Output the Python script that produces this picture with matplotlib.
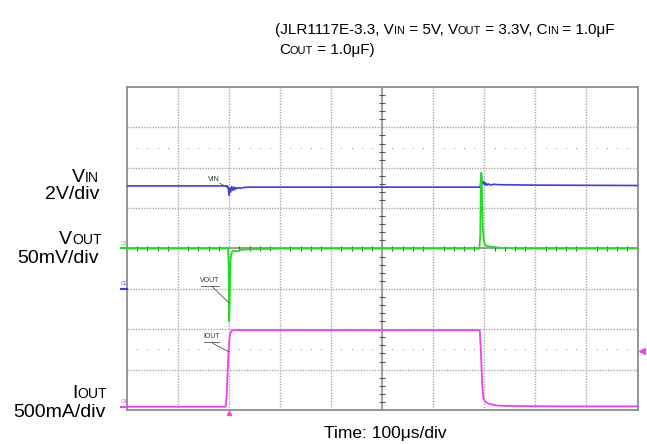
import matplotlib
matplotlib.use("Agg")
import matplotlib.pyplot as plt
import numpy as np

W, H = 647, 444
plt.rcParams['font.family'] = ['Liberation Sans', 'DejaVu Sans']

# ---- data (time in us, 100 us/div; amplitude in screen divisions) ----
vin_t = [0, 150, 197, 199, 200, 201, 203, 205, 207, 209, 211, 213, 215, 218, 222, 228, 240, 300,
         500, 692, 694, 695, 697, 699, 701, 703, 705, 708, 712, 718, 730, 800, 1000]
vin_v = [5.55, 5.55, 5.55, 5.45, 5.32, 5.50, 5.40, 5.53, 5.44, 5.52, 5.46, 5.51, 5.48, 5.51, 5.49,
         5.51, 5.52, 5.52, 5.52, 5.52, 5.87, 5.65, 5.60, 5.66, 5.57, 5.62, 5.57, 5.60, 5.57, 5.59,
         5.58, 5.57, 5.56]

vout_t = [0, 100, 198, 199, 200, 201, 202, 203, 205, 208, 215, 225, 240, 300, 500, 690, 692, 693,
          694, 695, 696, 697, 699, 701, 705, 715, 730, 760, 1000]
vout_v = [4.0, 4.0, 4.0, 3.6, 2.2, 2.6, 3.3, 3.75, 3.9, 3.95, 3.93, 3.97, 3.98, 4.0, 4.0, 4.0, 4.3,
          5.5, 5.87, 5.6, 5.0, 4.5, 4.2, 4.1, 4.06, 4.04, 4.02, 4.0, 4.0]

iout_t = [0, 100, 193, 195, 197, 199, 201, 203, 206, 210, 400, 691, 693, 696, 698, 702, 710, 725,
          745, 850, 1000]
iout_v = [0.08, 0.08, 0.08, 0.3, 0.9, 1.5, 1.8, 1.92, 1.97, 1.98, 1.98, 1.98, 1.5, 0.6, 0.3, 0.2,
          0.15, 0.11, 0.10, 0.09, 0.09]

ch_refs = [4.0, 3.0, 0.08]          # C2, C1, C4 ground markers
ch_names = ["C2", "C1", "C4"]
trig_level = 1.47
trig_time = 200

C_BLUE = '#3c3cf0'
C_GREEN = '#22dd22'
C_MAG = '#f040f0'

fig = plt.figure(figsize=(W / 100, H / 100), dpi=100)
ax = fig.add_axes([127 / W, 1 - 410 / H, (637.5 - 127) / W, (410 - 87) / H])
ax.set_xlim(0, 1000)
ax.set_ylim(0, 8)
ax.set_xticks([])
ax.set_yticks([])
for s in ax.spines.values():
    s.set_color('#8c8c8c')
    s.set_linewidth(1.3)

# grid
for i in range(1, 10):
    if i != 5:
        ax.axvline(i * 100, color='#a8a8a8', lw=1.0, ls=(0, (1, 1)), zorder=1)
for j in range(1, 8):
    if j != 4:
        ax.axhline(j, color='#a8a8a8', lw=1.0, ls=(0, (1, 1)), zorder=1)
ax.axvline(500, color='#8c8c8c', lw=1.2, zorder=1)
ax.axhline(4, color='#8c8c8c', lw=1.2, zorder=1)
# center ticks
ytk = [k * 0.2 for k in range(1, 40) if k % 5 != 0]
ax.hlines(ytk, 500 - 6, 500 + 6, color='#555555', lw=0.8, zorder=1)
xtk = [k * 20 for k in range(1, 50) if k % 5 != 0]
ax.vlines(xtk, 4 - 0.05, 4 + 0.05, color='#555555', lw=0.8, zorder=1)
# sparse dotted rows
xs = [k * 20 for k in range(1, 50) if k % 5 != 0]
for yy in (1.5, 6.5):
    ax.scatter(xs, [yy] * len(xs), s=0.6, color='#888888', zorder=1, linewidths=0)

# traces
ax.plot(vin_t, vin_v, color=C_BLUE, lw=1.2, zorder=3)
ax.plot(vout_t, vout_v, color=C_GREEN, lw=1.3, zorder=4)
ax.plot(iout_t, iout_v, color=C_MAG, lw=1.3, zorder=3)

# channel markers
for ref, name, c in zip(ch_refs, ch_names, [C_GREEN, C_BLUE, C_MAG]):
    ax.plot([-12, 0], [ref, ref], color=c, lw=1.5, clip_on=False, zorder=5)
    ax.text(-12, ref + 0.06, name, color=c, fontsize=3.5, ha='left', va='bottom')
ax.plot([1008], [trig_level], marker='<', color=C_MAG, ms=4, clip_on=False)
ax.plot([trig_time], [-0.07], marker='^', color=C_MAG, ms=3, clip_on=False)

# trace labels with leader lines
ax.text(170, 5.62, "VIN", fontsize=5, color='#333333', ha='center', va='bottom')
ax.plot([182, 201], [5.62, 5.47], color='#555555', lw=0.6, zorder=5)
ax.text(162, 3.12, "VOUT", fontsize=5, color='#333333', ha='center', va='bottom')
ax.plot([145, 180], [3.08, 3.08], color='#555555', lw=0.6, zorder=5)
ax.plot([168, 200], [3.04, 2.65], color='#555555', lw=0.6, zorder=5)
ax.text(166, 1.73, "IOUT", fontsize=5, color='#333333', ha='center', va='bottom')
ax.plot([151, 180], [1.69, 1.69], color='#555555', lw=0.6, zorder=5)
ax.plot([168, 200], [1.65, 1.44], color='#555555', lw=0.6, zorder=5)

# rich text with baseline-aligned small subscripts
renderer = fig.canvas.get_renderer()


def text_width(s, fs):
    t1 = fig.text(0, 0, "|" + s + "|", fontsize=fs)
    t2 = fig.text(0, 0, "||", fontsize=fs)
    w = t1.get_window_extent(renderer).width - t2.get_window_extent(renderer).width
    t1.remove()
    t2.remove()
    return w


def rich(x, y, parts, fs, ha='left', sub=0.72):
    widths = [text_width(s, fs * (sub if sb else 1)) for s, sb in parts]
    tot = sum(widths)
    cx = x - tot if ha == 'right' else (x - tot / 2 if ha == 'center' else x)
    for (s, sb), w in zip(parts, widths):
        fig.text(cx / W, 1 - y / H, s, fontsize=fs * (sub if sb else 1),
                 ha='left', va='baseline')
        cx += w


rich(275, 34, [("(JLR1117E-3.3, V", 0), ("IN", 1), (" = 5V, V", 0), ("OUT", 1),
               (" = 3.3V, C", 0), ("IN", 1), (" = 1.0\u03bcF", 0)], 11)
rich(279, 54, [("C", 0), ("OUT", 1), (" = 1.0\u03bcF)", 0)], 11)

rich(99, 182, [("V", 0), ("IN", 1)], 14, ha='right')
rich(99, 199, [("2V/div", 0)], 14, ha='right')
rich(102, 244, [("V", 0), ("OUT", 1)], 14, ha='right')
rich(99, 263, [("50mV/div", 0)], 14, ha='right')
rich(107, 398, [("I", 0), ("OUT", 1)], 14, ha='right')
rich(106, 417, [("500mA/div", 0)], 14, ha='right')

rich(385, 438, [("Time: 100\u03bcs/div", 0)], 12.5, ha='center')

fig.savefig("out.png", dpi=100)
